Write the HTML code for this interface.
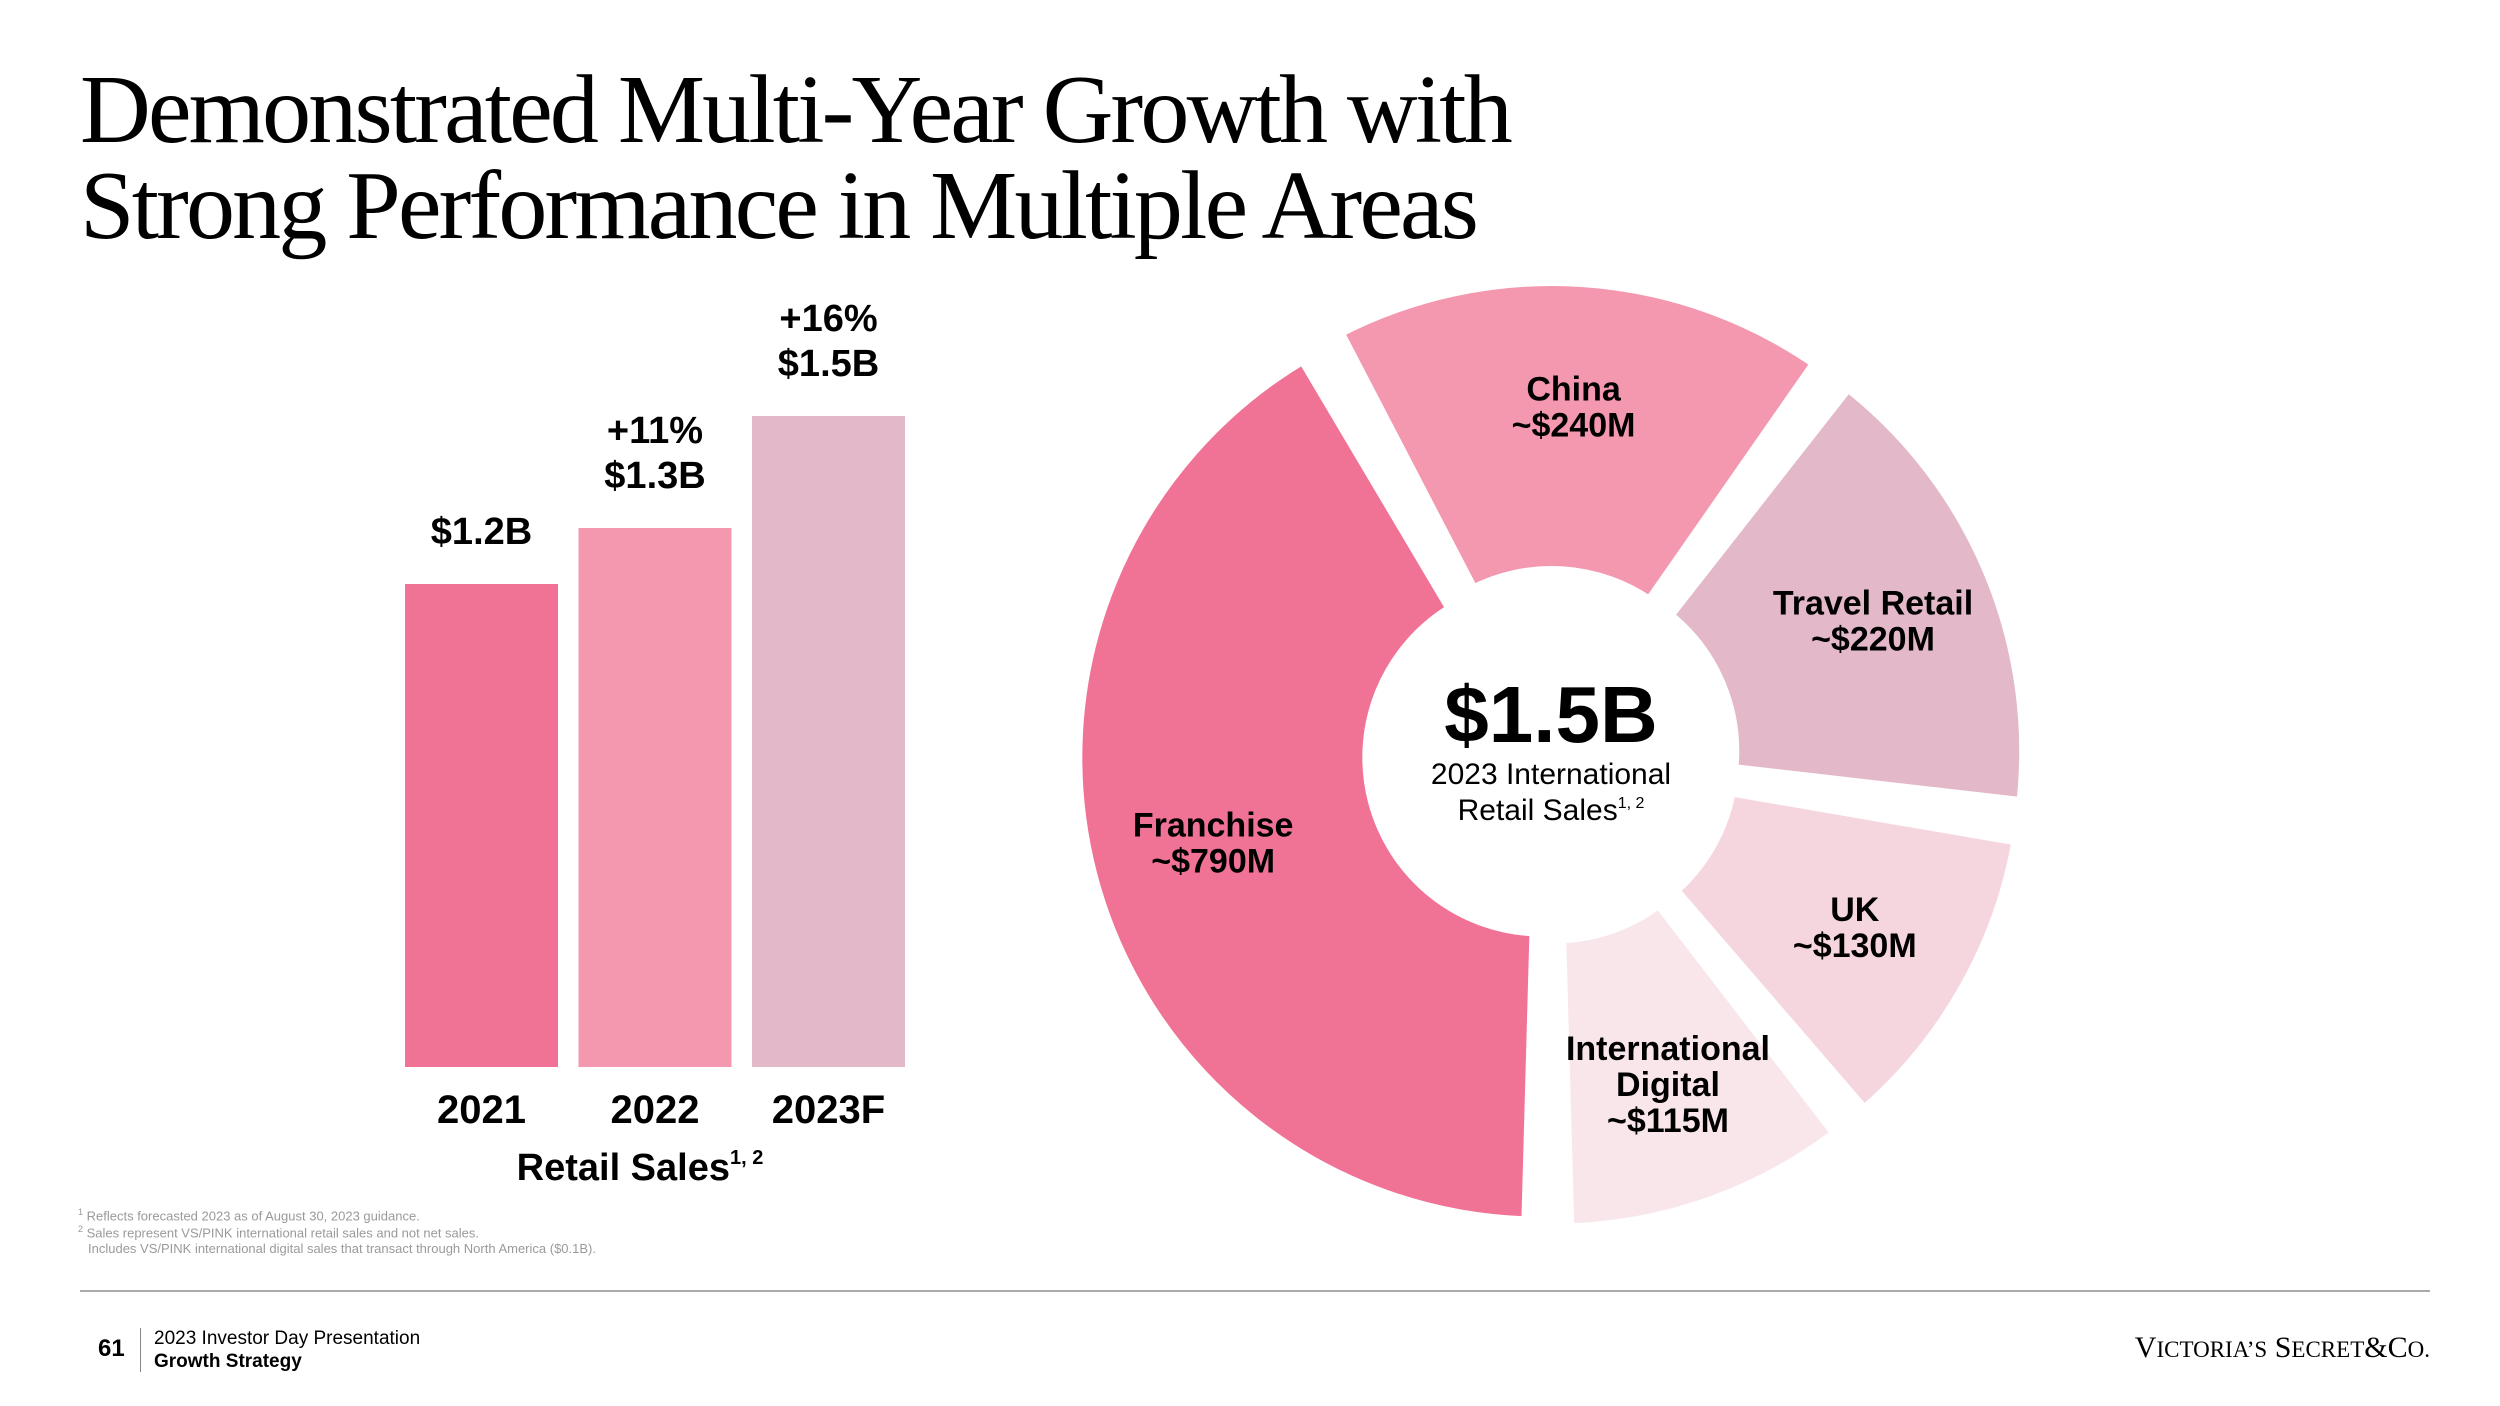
<!DOCTYPE html>
<html><head><meta charset="utf-8">
<style>
html,body{margin:0;padding:0;background:#fff;}
body{width:2500px;height:1406px;position:relative;overflow:hidden;font-family:"Liberation Sans",sans-serif;}
.title{position:absolute;left:80px;top:62px;font-family:"Liberation Serif",serif;font-size:98px;line-height:96px;letter-spacing:-2.8px;color:#000;margin:0;font-weight:normal;}
.fn{position:absolute;left:78px;font-size:13px;color:#9a9a9a;}
</style></head>
<body>
<h1 class="title">Demonstrated Multi-Year Growth with<br>Strong Performance in Multiple Areas</h1>

<svg id="chart" width="2500" height="1406" style="position:absolute;left:0;top:0"></svg>

<div class="fn" style="top:1207px"><sup style="font-size:9px">1</sup> Reflects forecasted 2023 as of August 30, 2023 guidance.</div>
<div class="fn" style="top:1224px"><sup style="font-size:9px">2</sup> Sales represent VS/PINK international retail sales and not net sales.</div>
<div class="fn" style="top:1241px;left:88px">Includes VS/PINK international digital sales that transact through North America ($0.1B).</div>

<div style="position:absolute;left:80px;top:1290px;width:2350px;height:2px;background:#aaa"></div>
<div style="position:absolute;left:98px;top:1335px;font-size:24px;font-weight:bold">61</div>
<div style="position:absolute;left:140px;top:1328px;width:1px;height:44px;background:#888"></div>
<div style="position:absolute;left:154px;top:1327px;font-size:19px;line-height:23px">2023 Investor Day Presentation<br><b>Growth Strategy</b></div>
<div style="position:absolute;right:70px;top:1331px;font-family:'Liberation Serif',serif;font-size:30px;letter-spacing:0px">V<span style="font-size:23px">ICTORIA’S</span> S<span style="font-size:23px">ECRET</span>&amp;C<span style="font-size:23px">O.</span></div>

<script>
const barCats = ["2021","2022","2023F"];
const barVals = [1.2, 1.3, 1.5];
const barLabels = ["$1.2B","$1.3B","$1.5B"];
const barGrowth = ["", "+11%", "+16%"];
const barColors = ["#f07396","#f498b0","#e3b9c9"];

const segNames = [["Franchise"],["China"],["Travel Retail"],["UK"],["International","Digital"]];
const segVals = [790, 240, 220, 130, 115];
const segLabels = ["~$790M","~$240M","~$220M","~$130M","~$115M"];
const segColors = ["#f07396","#f498b0","#e3b9c9","#f5d6de","#f9e6eb"];

const NS="http://www.w3.org/2000/svg";
const svg=document.getElementById('chart');
function mk(tag,attrs){const e=document.createElementNS(NS,tag);for(const k in attrs)e.setAttribute(k,attrs[k]);svg.appendChild(e);return e;}
function txt(x,y,s,size,weight,name){const t=mk('text',{x:x,y:y,'text-anchor':'middle','font-size':size,'font-weight':weight,'font-family':'Liberation Sans, sans-serif',fill:'#000'});t.textContent=s;


return t;}

// bar axis
const base=1067, v0=0.3375, k=560;
const yS=v=>base-(v-v0)*k;
const x0=405, bw=153, step=173.5;
barVals.forEach((v,i)=>{
  const x=x0+i*step, y=yS(v);
  const r=mk('rect',{x:x,y:y,width:bw,height:base-y,fill:barColors[i]});
  
  
  const cx=x+bw/2;
  txt(cx,y-40,barLabels[i],38,'bold','bar-value-label');
  if(barGrowth[i]) txt(cx,y-85,barGrowth[i],38,'bold','bar-growth-label');
  txt(cx,1123,barCats[i],40,'bold','x-axis-label');
});
const at=txt(640,1180,'Retail Sales',38,'bold','x-axis-title');
const sup=document.createElementNS(NS,'tspan');sup.setAttribute('font-size','20');sup.setAttribute('dy','-16');sup.textContent='1, 2';at.appendChild(sup);

// donut (angular scale: value^0.7, matching the design's compressed spans)
const cx=1551, cy=755, R=466, r0=172, ex=10, gap=1.6, pw=0.7;
const w=segVals.map(v=>Math.pow(v,pw));
const total=w.reduce((a,b)=>a+b,0);
let a=180;
const pt=(ang,rad,ox,oy)=>{const t=ang*Math.PI/180;return [cx+ox+rad*Math.sin(t), cy+oy-rad*Math.cos(t)];};
segVals.forEach((v,i)=>{
  const span=w[i]/total*360, a1=a+gap, a2=a+span-gap, mid=a+span/2;
  const m=mid*Math.PI/180, ox=ex*Math.sin(m), oy=-ex*Math.cos(m);
  const p1=pt(a1,R,ox,oy), p2=pt(a2,R,ox,oy), p3=pt(a2,r0,ox,oy), p4=pt(a1,r0,ox,oy);
  const lg=(a2-a1)>180?1:0;
  const d=`M${p1[0]},${p1[1]} A${R},${R} 0 ${lg} 1 ${p2[0]},${p2[1]} L${p3[0]},${p3[1]} A${r0},${r0} 0 ${lg} 0 ${p4[0]},${p4[1]} Z`;
  const p=mk('path',{d:d,fill:segColors[i],stroke:'#fff','stroke-width':14,'stroke-linejoin':'miter'});
  
  
  const lp=pt(mid,(R+r0)/2+20,ox,oy);
  const lines=segNames[i].concat([segLabels[i]]);
  const lh=36, sy=lp[1]-(lines.length-1)*lh/2+12;
  lines.forEach((s,j)=>txt(lp[0],sy+j*lh,s,34,'bold','slice-label'));
  a+=span;
});
mk('circle',{cx:cx,cy:cy,r:r0-4,fill:'#fff'});
txt(cx,742,'$1.5B',80,'bold','donut-total');
txt(cx,784,'2023 International',30,'normal','donut-caption');
const c2=txt(cx,820,'Retail Sales',30,'normal','donut-caption-2');
const s2=document.createElementNS(NS,'tspan');s2.setAttribute('font-size','16');s2.setAttribute('dy','-12');s2.textContent='1, 2';c2.appendChild(s2);
</script>
</body></html>
